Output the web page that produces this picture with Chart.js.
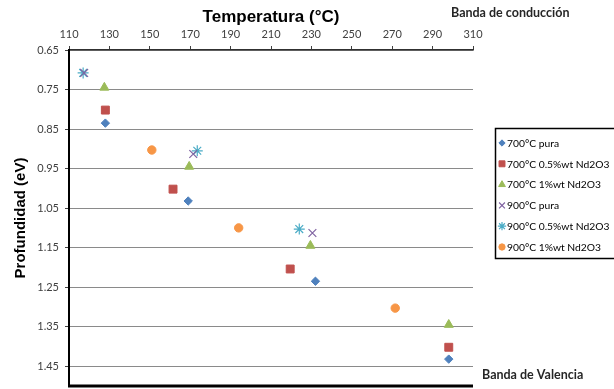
<!DOCTYPE html>
<html>
<head>
<meta charset="utf-8">
<script src="https://cdn.jsdelivr.net/npm/chart.js@4/dist/chart.umd.min.js"></script>
<style>
  html, body { margin: 0; padding: 0; background: #fff; }
  #wrap { width: 614px; height: 389px; }
</style>
</head>
<body>
<div id="wrap"><canvas id="chart" width="614" height="389"></canvas></div>
<script>
// Axis ticks
const xTicks = [110, 130, 150, 170, 190, 210, 230, 250, 270, 290, 310];
const yTicks = [0.65, 0.75, 0.85, 0.95, 1.05, 1.15, 1.25, 1.35, 1.45];

// Series names
const seriesNames = [
    '700°C pura',
    '700°C 0.5%wt Nd2O3',
    '700°C 1%wt Nd2O3',
    '900°C pura',
    '900°C 0.5%wt Nd2O3',
    '900°C 1%wt Nd2O3'
];

// Temperature (x) and depth (y)
const temp700Pura = [128, 169, 232, 298];
const depth700Pura = [0.835, 1.032, 1.235, 1.432];

const temp700Half = [128, 161.5, 219.5, 298];
const depth700Half = [0.802, 1.002, 1.204, 1.402];

const temp700One = [127.5, 169.5, 229.5, 298];
const depth700One = [0.745, 0.945, 1.145, 1.345];

const temp900Pura = [117.5, 171.5, 230.5];
const depth900Pura = [0.708, 0.913, 1.113];

const temp900Half = [117, 173.5, 224];
const depth900Half = [0.708, 0.905, 1.103];

const temp900One = [151, 194, 271.5];
const depth900One = [0.903, 1.100, 1.303];

const topNote = 'Banda de conducción';
const bottomNote = 'Banda de Valencia';

function toPoints(xs, ys) {
    return xs.map((x, i) => ({ x: x, y: ys[i] }));
}

const datasets = [
    { label: seriesNames[0], data: toPoints(temp700Pura, depth700Pura), pointStyle: 'rectRot', pointRadius: 4.2, borderWidth: 1, color: '#4F81BD' },
    { label: seriesNames[1], data: toPoints(temp700Half, depth700Half), pointStyle: 'rect', pointRadius: 5.6, borderWidth: 1, color: '#C0504D' },
    { label: seriesNames[2], data: toPoints(temp700One, depth700One), pointStyle: 'triangle', pointRadius: 5.2, borderWidth: 1, color: '#9BBB59' },
    { label: seriesNames[3], data: toPoints(temp900Pura, depth900Pura), pointStyle: 'crossRot', pointRadius: 5.5, borderWidth: 1.2, color: '#8064A2' },
    { label: seriesNames[4], data: toPoints(temp900Half, depth900Half), pointStyle: 'star', pointRadius: 5.5, borderWidth: 1.2, color: '#4BACC6' },
    { label: seriesNames[5], data: toPoints(temp900One, depth900One), pointStyle: 'circle', pointRadius: 4.2, borderWidth: 1, color: '#F79646' }
].map(d => ({
    label: d.label,
    data: d.data,
    showLine: false,
    pointStyle: d.pointStyle,
    pointRadius: d.pointRadius,
    pointHoverRadius: d.pointRadius,
    pointBorderWidth: d.borderWidth,
    pointBackgroundColor: d.color,
    pointBorderColor: d.color,
    backgroundColor: d.color,
    borderColor: d.color
}));

// Legend box, bottom frame line and band notes
const extrasPlugin = {
    id: 'extras',
    afterDraw(chart) {
        const ctx = chart.ctx;
        const area = chart.chartArea;
        ctx.save();
        ctx.strokeStyle = '#000';
        ctx.lineWidth = 3;
        ctx.beginPath();
        ctx.moveTo(area.left - 1, area.bottom);
        ctx.lineTo(area.right, area.bottom);
        ctx.stroke();

        ctx.font = 'bold 12.5px Lato';
        ctx.fillStyle = '#262626';
        ctx.textBaseline = 'middle';
        ctx.textAlign = 'left';
        ctx.fillText(topNote, 451, 13);
        ctx.fillText(bottomNote, 482, 375);

        ctx.strokeStyle = '#000';
        ctx.lineWidth = 1.5;
        ctx.strokeRect(495.5, 128.5, 125, 130);

        chart.data.datasets.forEach((ds, i) => {
            const y = 143 + i * 20.8;
            ctx.fillStyle = ds.pointBackgroundColor;
            ctx.strokeStyle = ds.pointBorderColor;
            ctx.lineWidth = ds.pointBorderWidth;
            Chart.helpers.drawPoint(ctx, {
                pointStyle: ds.pointStyle,
                radius: ds.pointRadius * 0.75,
                borderWidth: ds.pointBorderWidth,
                rotation: 0
            }, 502, y);
            ctx.fillStyle = '#000';
            ctx.font = '10.3px Lato';
            ctx.fillText(ds.label, 507, y + 0.5);
        });
        ctx.restore();
    }
};

const chart = new Chart(document.getElementById('chart'), {
    type: 'scatter',
    data: { datasets: datasets },
    plugins: [extrasPlugin],
    options: {
        responsive: false,
        animation: false,
        layout: { autoPadding: false, padding: { left: 0, right: 141, top: 0, bottom: 3 } },
        plugins: {
            legend: { display: false },
            tooltip: { enabled: false }
        },
        scales: {
            x: {
                type: 'linear',
                position: 'top',
                min: 110,
                max: 310,
                afterBuildTicks: s => { s.ticks = xTicks.map(v => ({ value: v })); },
                afterFit: s => { s.height = 50; },
                ticks: {
                    color: '#404040',
                    font: { family: 'Lato', size: 11 },
                    padding: 5,
                    maxRotation: 0
                },
                grid: { drawOnChartArea: false, drawTicks: true, tickLength: 4, color: '#404040' },
                border: { color: '#303030', width: 1.5 },
                title: {
                    display: true,
                    text: 'Temperatura (°C)',
                    color: '#000',
                    font: { family: 'Liberation Sans', weight: 'bold', size: 17 },
                    padding: { top: 7, bottom: 0 }
                }
            },
            y: {
                type: 'linear',
                reverse: true,
                min: 0.65,
                max: 1.5,
                afterBuildTicks: s => { s.ticks = yTicks.map(v => ({ value: v })); },
                afterFit: s => { s.width = 69; s.paddingTop = 0; s.paddingBottom = 0; },
                ticks: {
                    color: '#404040',
                    font: { family: 'Lato', size: 11 },
                    padding: 6,
                    callback: v => v.toFixed(2)
                },
                grid: { color: '#8a8a8a', lineWidth: 1, tickLength: 4, tickColor: '#404040' },
                border: { color: '#000', width: 2 },
                title: {
                    display: true,
                    text: 'Profundidad (eV)',
                    color: '#000',
                    font: { family: 'Liberation Sans', weight: 'bold', size: 15 },
                    padding: { top: 12, bottom: 0 }
                }
            }
        }
    }
});
</script>
</body>
</html>
